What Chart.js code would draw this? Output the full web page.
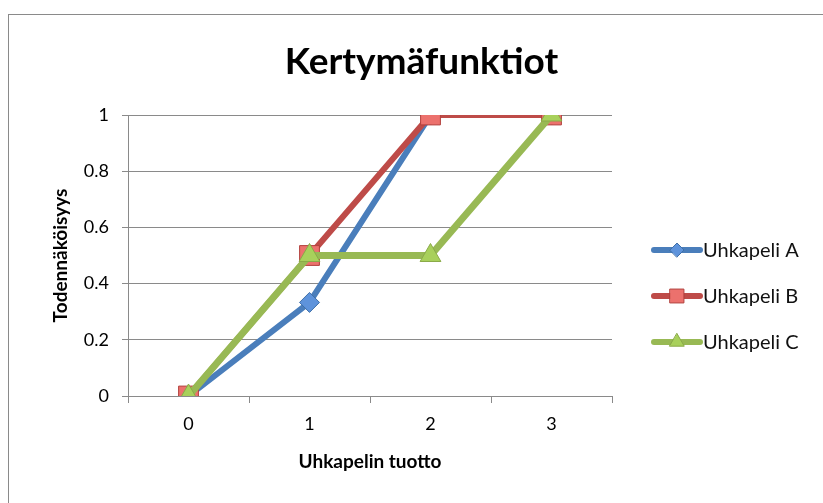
<!DOCTYPE html>
<html>
<head>
<meta charset="utf-8">
<script src="https://cdn.jsdelivr.net/npm/chart.js@4"></script>
<style>
  body { margin: 0; background: #fff; }
  #wrap { position: relative; width: 823px; height: 503px; overflow: hidden; }
  #frame { position: absolute; left: 8px; top: 14px; width: 900px; height: 600px; border: 1px solid #8a8a8a; }
  canvas { position: absolute; left: 0; top: 0; }
</style>
</head>
<body>
<div id="wrap">
  <div id="frame"></div>
  <canvas id="chart" width="823" height="503"></canvas>
</div>
<script>
// Chart data
const chart_title = "Kertymäfunktiot";
const categories = ["0", "1", "2", "3"];
const series_names = ["Uhkapeli A", "Uhkapeli B", "Uhkapeli C"];
const values_a = [0, 0.333, 1, 1];
const values_b = [0, 0.5, 1, 1];
const values_c = [0, 0.5, 0.5, 1];
const y_ticks = [0, 0.2, 0.4, 0.6, 0.8, 1];

const font_family = "Lato, 'Open Sans', sans-serif";

// title centred on the whole picture + legend drawn as line + marker
const extraDraw = {
  id: "extraDraw",
  afterDraw(chart) {
    const ctx = chart.ctx;
    const area = chart.chartArea;
    ctx.save();
    ctx.fillStyle = "#000";
    ctx.font = "bold 37px " + font_family;
    ctx.textAlign = "center";
    ctx.textBaseline = "middle";
    ctx.fillText(chart_title, chart.width / 2 + 10, 62);
    ctx.restore();

    chart.data.datasets.forEach((ds, i) => {
      const y = 250 + i * 46;
      const x0 = area.right + 42;
      ctx.save();
      ctx.strokeStyle = ds.borderColor;
      ctx.lineWidth = 6;
      ctx.lineCap = "round";
      ctx.beginPath();
      ctx.moveTo(x0, y);
      ctx.lineTo(x0 + 46, y);
      ctx.stroke();
      ctx.fillStyle = ds.pointBackgroundColor;
      ctx.strokeStyle = ds.pointBorderColor;
      ctx.lineWidth = 1;
      Chart.helpers.drawPoint(ctx, {
        pointStyle: ds.pointStyle,
        radius: ds.pointRadius * 0.7,
        rotation: 0,
        borderWidth: 1,
      }, x0 + 23, y);
      ctx.fillStyle = "#111";
      ctx.font = "20px " + font_family;
      ctx.textBaseline = "middle";
      ctx.textAlign = "left";
      ctx.fillText(ds.label, x0 + 49, y + 1);
      ctx.restore();
    });
  },
};

const ctx = document.getElementById("chart").getContext("2d");
new Chart(ctx, {
  type: "line",
  data: {
    labels: categories,
    datasets: [
      {
        label: series_names[0],
        data: values_a,
        borderColor: "#4A7EBB",
        borderWidth: 6,
        pointStyle: "rectRot",
        pointRadius: 10,
        pointBackgroundColor: "#5E93DB",
        pointBorderColor: "#3F6FA8",
        pointBorderWidth: 1,
        order: 3,
      },
      {
        label: series_names[1],
        data: values_b,
        borderColor: "#BE4B48",
        borderWidth: 6,
        pointStyle: "rect",
        pointRadius: 14,
        pointBackgroundColor: "#EC716D",
        pointBorderColor: "#B2403D",
        pointBorderWidth: 1,
        order: 2,
      },
      {
        label: series_names[2],
        data: values_c,
        borderColor: "#98B954",
        borderWidth: 7,
        pointStyle: "triangle",
        pointRadius: 12,
        pointBackgroundColor: "#A8D05B",
        pointBorderColor: "#8AAA48",
        pointBorderWidth: 1,
        order: 1,
      },
    ],
  },
  options: {
    responsive: false,
    animation: false,
    layout: { padding: { left: 40, right: 211, top: 115, bottom: 20 } },
    plugins: {
      legend: { display: false },
      tooltip: { enabled: false },
      title: { display: false },
    },
    scales: {
      x: {
        offset: true,
        grid: {
          offset: true,
          drawOnChartArea: false,
          drawTicks: true,
          tickLength: 7,
          color: "#8a8a8a",
        },
        border: { color: "#8a8a8a" },
        ticks: { color: "#000", padding: 10, font: { family: font_family, size: 18 } },
        title: {
          display: true,
          text: "Uhkapelin tuotto",
          color: "#000",
          font: { family: font_family, size: 19, weight: "bold" },
          padding: { top: 0, bottom: 10 },
        },
        afterFit(scale) { scale.height = 87; },
      },
      y: {
        min: 0,
        max: 1,
        afterBuildTicks(scale) { scale.ticks = y_ticks.map((v) => ({ value: v })); },
        grid: { color: "#8a8a8a", tickLength: 6 },
        border: { color: "#8a8a8a" },
        ticks: {
          color: "#000",
          padding: 13,
          font: { family: font_family, size: 18 },
          callback: (v) => String(Math.round(v * 10) / 10),
        },
        title: {
          display: true,
          text: "Todennäköisyys",
          color: "#000",
          font: { family: font_family, size: 19, weight: "bold" },
          padding: { top: 9, bottom: 0 },
        },
        afterFit(scale) { scale.width = 88; },
      },
    },
  },
  plugins: [extraDraw],
});
</script>
</body>
</html>
